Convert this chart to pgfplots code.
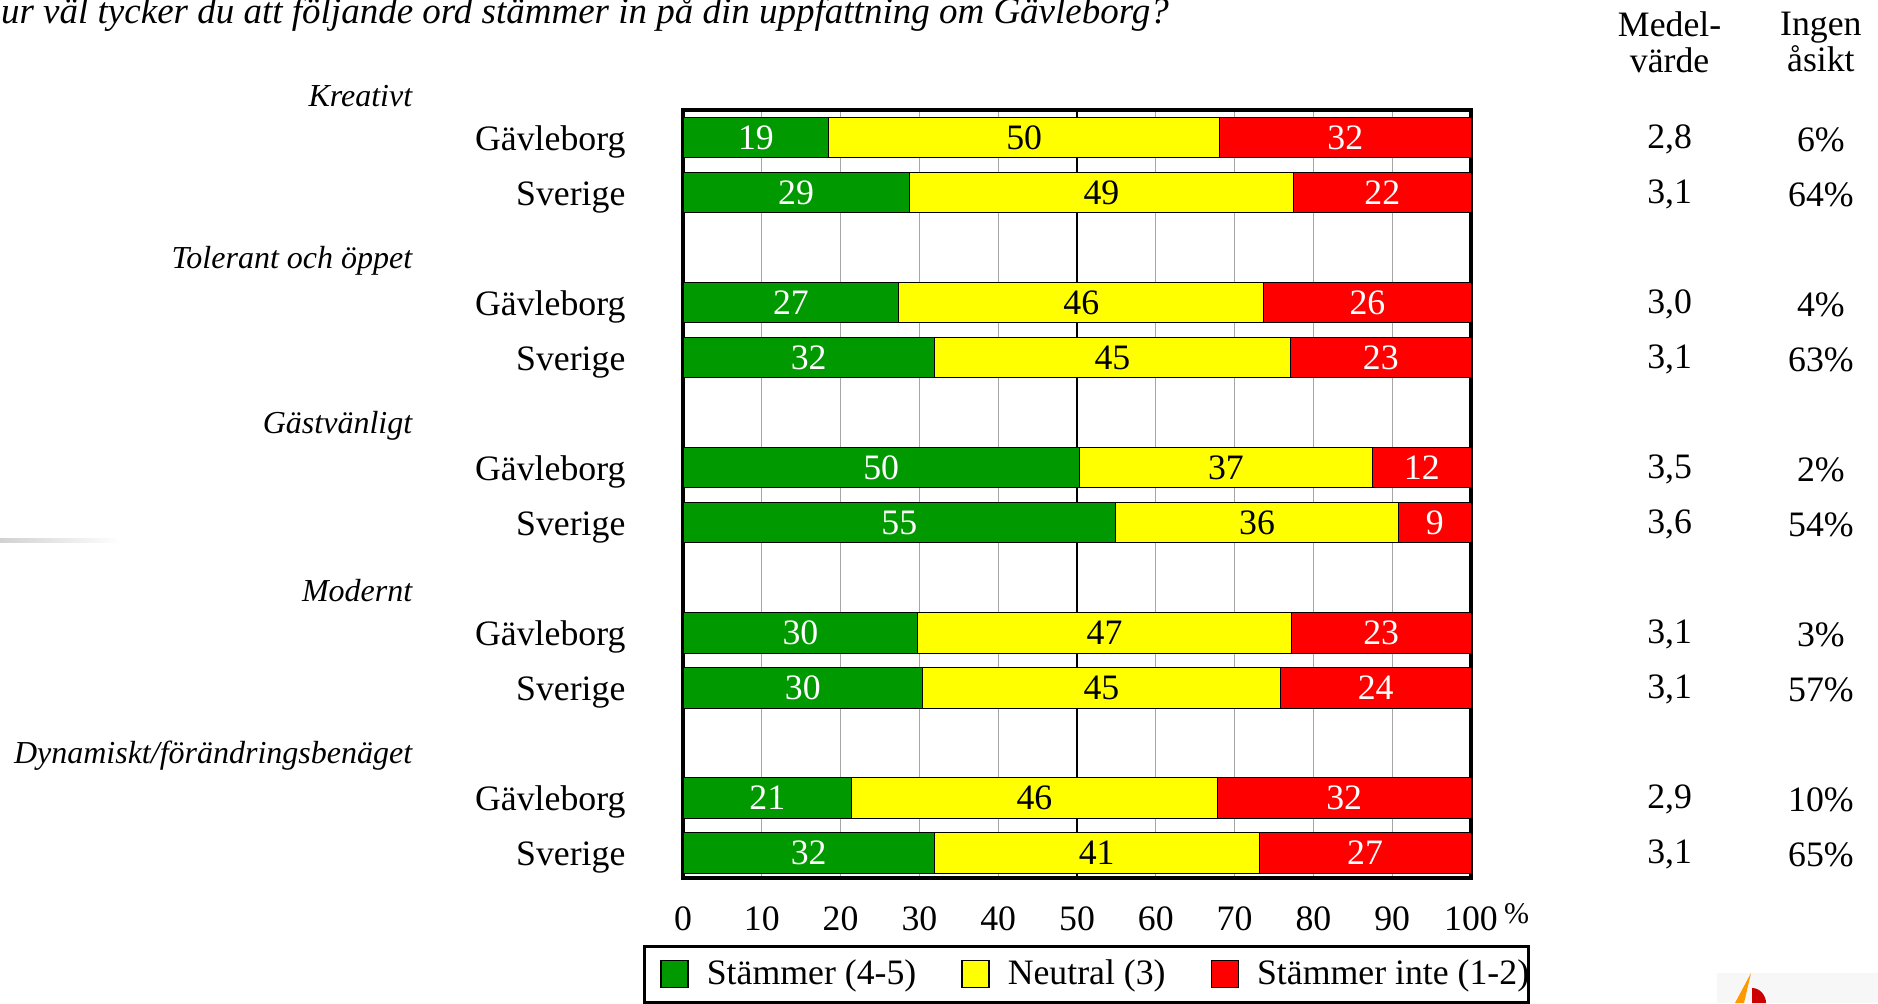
\documentclass[border=0pt]{standalone}
\usepackage{fontspec}
\setmainfont{Liberation Serif}
\usepackage{pgfplots}
\pgfplotsset{compat=1.18}
\usepackage{pgfplotstable}
\definecolor{mygreen}{RGB}{0,153,0}
\definecolor{myyellow}{RGB}{255,255,0}
\definecolor{myred}{RGB}{255,0,0}
\newcommand\fs{\fontsize{14.3}{16}\selectfont}
\newcommand\fsi{\fontsize{12.8}{15}\selectfont\itshape}

\pgfplotstableread{
y g n r gl nl rl
0 18.5 49.6 31.9 19 50 32
1 28.7 48.8 22.5 29 49 22
3 27.4 46.3 26.3 27 46 26
4 31.9 45.2 22.9 32 45 23
6 50.3 37.2 12.5 50 37 12
7 54.9 35.9 9.2 55 36 9
9 29.8 47.4 22.8 30 47 23
10 30.4 45.4 24.2 30 45 24
12 21.4 46.4 32.2 21 46 32
13 31.9 41.2 26.9 32 41 27
}\data

\begin{document}
\begin{tikzpicture}[x=1pt,y=1pt,font=\fs]
\useasboundingbox (0,0) rectangle (751.2,401.2);
\shade[left color=black!18, right color=white] (0,184.2) rectangle (48,185.6);
% logo fragment
\fill[black!3] (686.8,0) rectangle (751.2,12);
\fill[orange!80!yellow] (694,0) -- (700.4,12) -- (697.6,0) -- cycle;
\fill[red!80!black] (700.8,0) -- (700.8,6) .. controls (704,6) and (706.4,3) .. (706.4,0) -- cycle;
\begin{axis}[
  at={(273.2pt,50pt)}, anchor=south west,
  scale only axis, width=315.2pt, height=307.2pt,
  xbar stacked, bar width=16.3pt,
  y dir=reverse,
  xmin=0, xmax=100, ymin=-0.5, ymax=13.46,
  xtick={0,10,20,30,40,60,70,80,90,100},
  xticklabels={0,10,20,30,40,60,70,80,90,100},
  extra x ticks={50}, extra x tick labels={50},
  extra x tick style={grid style={black, line width=0.5pt}},
  /pgf/number format/assume math mode=true,
  xticklabel style={font=\fs, yshift=-7.8pt},
  ytick={0,1,3,4,6,7,9,10,12,13},
  yticklabels={Gävleborg,Sverige,Gävleborg,Sverige,Gävleborg,Sverige,Gävleborg,Sverige,Gävleborg,Sverige},
  yticklabel style={font=\fs, xshift=-19.5pt, yshift=-1.9pt},
  major tick length=0pt,
  xmajorgrids, grid style={gray!70, line width=0.5pt},
  axis line style={line width=1.3pt},
  clip=false,
  legend columns=3,
  legend style={at={(axis cs:-5.1,14.67)}, anchor=north west, draw=black, line width=1.2pt,
    font=\fs, inner xsep=6.4pt, inner ysep=3.5pt,
    /tikz/every odd column/.append style={column sep=5.3pt},
    /tikz/every even column/.append style={column sep=16pt}},
  legend image code/.code={\draw[#1, line width=0.5pt] (0pt,-5.3pt) rectangle (10.8pt,5.3pt);},
]
\addplot[fill=mygreen, draw=black, line width=0.4pt,
  nodes near coords, point meta=explicit symbolic,
  every node near coord/.append style={text=white, font=\fs, anchor=center}]
  table[x=g, y=y, meta=gl] {\data};
\addlegendentry{Stämmer (4-5)}
\addplot[fill=myyellow, draw=black, line width=0.4pt,
  nodes near coords, point meta=explicit symbolic,
  every node near coord/.append style={text=black, font=\fs, anchor=center}]
  table[x=n, y=y, meta=nl] {\data};
\addlegendentry{Neutral (3)}
\addplot[fill=myred, draw=black, line width=0.4pt,
  nodes near coords, point meta=explicit symbolic,
  every node near coord/.append style={text=white, font=\fs, anchor=center}]
  table[x=r, y=y, meta=rl] {\data};
\addlegendentry{Stämmer inte (1-2)\hspace*{-8.6pt}}

% group labels
\node[anchor=east, inner xsep=0pt, font=\fsi] at (axis cs:-34.3,-0.76) {Kreativt};
\node[anchor=east, inner xsep=0pt, font=\fsi] at (axis cs:-34.3,2.24) {Tolerant och öppet};
\node[anchor=east, inner xsep=0pt, font=\fsi] at (axis cs:-34.3,5.24) {Gästvänligt};
\node[anchor=east, inner xsep=0pt, font=\fsi] at (axis cs:-34.3,8.24) {Modernt};
\node[anchor=east, inner xsep=0pt, font=\fsi] at (axis cs:-34.3,11.24) {Dynamiskt/förändringsbenäget};
% title
\node[anchor=west, inner sep=0pt, font=\fontsize{14.8}{17}\selectfont\itshape] at (axis cs:-86.6,-2.24) {\llap{H}ur väl tycker du att följande ord stämmer in på din uppfattning om Gävleborg?};
% headers
\node[align=center, font=\fontsize{14.3}{14.4}\selectfont] at (axis cs:125.2,-1.74) {Medel-\\värde};
\node[align=center, font=\fontsize{14.3}{14.4}\selectfont] at (axis cs:144.4,-1.74) {Ingen\\åsikt};
% percent sign
\node[font=\fontsize{12}{13}\selectfont] at (axis cs:105.8,14.1) {\%};
% right columns
\node at (axis cs:125.2,0.04) {2,8};  \node at (axis cs:144.4,0.04) {6\%};
\node at (axis cs:125.2,1.04) {3,1};  \node at (axis cs:144.4,1.04) {64\%};
\node at (axis cs:125.2,3.04) {3,0};  \node at (axis cs:144.4,3.04) {4\%};
\node at (axis cs:125.2,4.04) {3,1};  \node at (axis cs:144.4,4.04) {63\%};
\node at (axis cs:125.2,6.04) {3,5};  \node at (axis cs:144.4,6.04) {2\%};
\node at (axis cs:125.2,7.04) {3,6};  \node at (axis cs:144.4,7.04) {54\%};
\node at (axis cs:125.2,9.04) {3,1};  \node at (axis cs:144.4,9.04) {3\%};
\node at (axis cs:125.2,10.04) {3,1}; \node at (axis cs:144.4,10.04) {57\%};
\node at (axis cs:125.2,12.04) {2,9}; \node at (axis cs:144.4,12.04) {10\%};
\node at (axis cs:125.2,13.04) {3,1}; \node at (axis cs:144.4,13.04) {65\%};
\end{axis}
\end{tikzpicture}
\end{document}
